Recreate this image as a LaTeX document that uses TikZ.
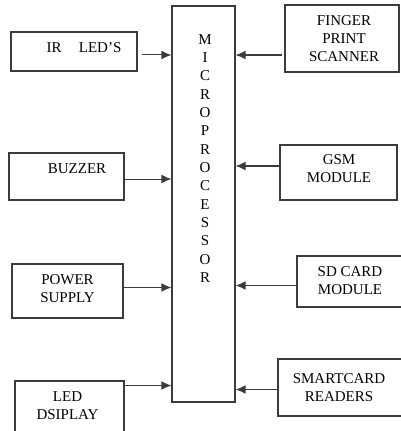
\documentclass[tikz,border=0pt]{standalone}
\usepackage{fontspec}
\setmainfont{Liberation Serif}
\usepackage{tikz}
\usetikzlibrary{arrows.meta, positioning}
\usepackage{xcolor}
\definecolor{line-gray}{RGB}{60,60,60}

\begin{document}
\begin{tikzpicture}[
    x=0.75pt, y=-0.75pt,
    %% Peripheral block
    blk/.style  = {rectangle, draw=line-gray, line width=0.8pt,
                   inner sep=0pt},
    %% Central processor column
    mpu/.style  = {rectangle, draw=line-gray, line width=0.8pt,
                   minimum width=47.25pt, minimum height=297pt, inner sep=0pt},
    %% Block caption
    txt/.style  = {font=\fontsize{11.25}{13.6}\selectfont, align=center,
                   inner sep=0pt},
    arr/.style  = {-{Latex[length=7.5pt,width=6.5pt]}, line width=0.8pt,
                   color=line-gray},
]
\useasboundingbox (0,0) rectangle (400,431);

%% ---- Microprocessor column ----
\node[mpu] (micro) at (203.5, 204) {};
\node[txt, font=\fontsize{11.25}{13.75}\selectfont, anchor=north] (microtxt) at (205, 34)
    {M\\I\\C\\R\\O\\P\\R\\O\\C\\E\\S\\S\\O\\R};

%% ---- Left blocks ----
\node[blk, minimum width=94.5pt, minimum height=29.25pt] (irled)  at (74, 51.5) {};
\node[txt] (irledtxt) at (84, 48) {IR\hspace{13pt}LED'S};

\node[blk, minimum width=86.25pt, minimum height=35.25pt] (buzzer) at (66.5, 176.5) {};
\node[txt] (buzzertxt) at (77, 169) {BUZZER};

\node[blk, minimum width=83.25pt, minimum height=40.5pt] (power)  at (67.5, 291) {};
\node[txt] (powertxt) at (67.5, 288.5) {POWER\\SUPPLY};

\node[blk, minimum width=81.75pt, minimum height=45pt] (display) at (69.5, 411) {};
\node[txt] (displaytxt) at (67.5, 406) {LED\\DSIPLAY};

%% ---- Right blocks ----
\node[blk, minimum width=85.5pt, minimum height=50.25pt] (finger) at (342, 38.5) {};
\node[txt] (fingertxt) at (344, 38.5) {FINGER\\PRINT\\SCANNER};

\node[blk, minimum width=87.75pt, minimum height=41.25pt] (gsm)    at (338.5, 172.5) {};
\node[txt] (gsmtxt) at (339, 169) {GSM\\MODULE};

\node[blk, minimum width=78.75pt, minimum height=38.25pt] (sdcard) at (349.5, 281.5) {};
\node[txt] (sdcardtxt) at (350, 281) {SD CARD\\MODULE};

\node[blk, minimum width=93pt, minimum height=42.75pt] (reader) at (340, 387.5) {};
\node[txt] (readertxt) at (339, 387.5) {SMARTCARD\\READERS};

%% inputs -> microprocessor
\draw[arr] ([xshift=3pt,yshift=-2.6pt]irled.east) -- ([yshift=-2.6pt]irled.east -| micro.west);
\draw[arr] ([yshift=-1.9pt]buzzer.east)  -- ([yshift=-1.9pt]buzzer.east -| micro.west);
\draw[arr] ([yshift=2.6pt]power.east)    -- ([yshift=2.6pt]power.east -| micro.west);
\draw[arr] ([yshift=19.1pt]display.east) -- ([yshift=19.1pt]display.east -| micro.west);

\draw[arr] ([xshift=-1.5pt,yshift=-12.4pt]finger.west) -- ([yshift=-12.4pt]finger.west -| micro.east);
\draw[arr] ([yshift=4.9pt]gsm.west)     -- ([yshift=4.9pt]gsm.west -| micro.east);
\draw[arr] ([yshift=-3pt]sdcard.west)   -- ([yshift=-3pt]sdcard.west -| micro.east);
\draw[arr] ([yshift=-1.5pt]reader.west) -- ([yshift=-1.5pt]reader.west -| micro.east);

\end{tikzpicture}
\end{document}
